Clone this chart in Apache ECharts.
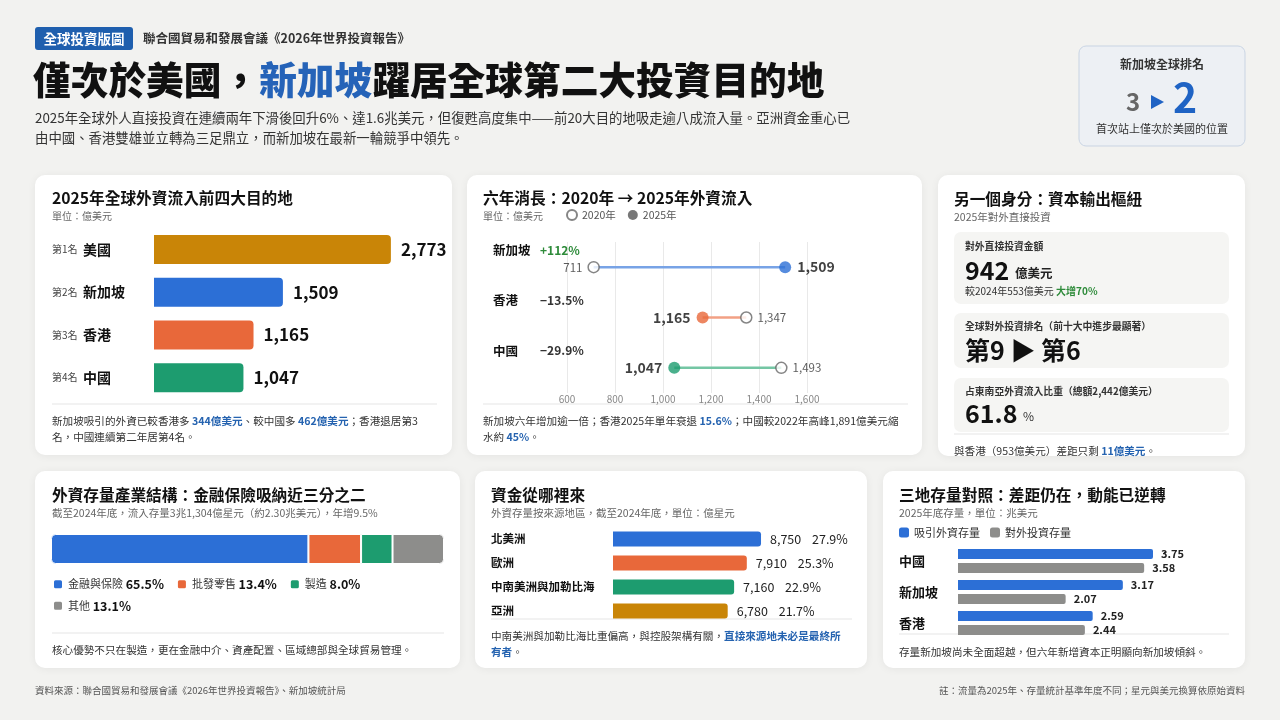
<!DOCTYPE html>
<html><head><meta charset="utf-8">
<script src="https://cdn.jsdelivr.net/npm/echarts@6/dist/echarts.min.js"></script>
<style>html,body{margin:0;padding:0;background:#f2f2f0;}#c{width:1280px;height:720px;}</style>
</head><body><div id="c"></div>
<script>
// ---------- DATA ----------
const top4Countries = ['美國','新加坡','香港','中國'];
const top4Ranks = ['第1名','第2名','第3名','第4名'];
const top4Values = [2773,1509,1165,1047];

const dbCountries = ['新加坡','香港','中國'];
const db2020 = [711,1347,1493];
const db2025 = [1509,1165,1047];
const dbChange = ['+112%','−13.5%','−29.9%'];

const sectorNames = ['金融與保險','批發零售','製造','其他'];
const sectorShares = [65.5,13.4,8.0,13.1];

const sourceRegions = ['北美洲','歐洲','中南美洲與加勒比海','亞洲'];
const sourceValues = [8750,7910,7160,6780];
const sourceShares = [27.9,25.3,22.9,21.7];

const stockPlaces = ['中國','新加坡','香港'];
const stockInward = [3.75,3.17,2.59];
const stockOutward = [3.58,2.07,2.44];

// ---------- STYLE ----------
const FONT = '"Noto Sans CJK TC","Noto Sans",sans-serif';
const BLUE = '#2c6fd6', ORANGE = '#e8683a', GREEN = '#1d9c6f', GOLD = '#c98507', GRAY = '#8d8d8b';
const ACC = '#2563b0';
const top4Colors = [GOLD, BLUE, ORANGE, GREEN];
const dbDot = [BLUE, ORANGE, GREEN];
const dbLine = ['#78a3e6', '#f2a084', '#74c6a4'];
const sectorColors = [BLUE, ORANGE, GREEN, GRAY];
const sourceColors = [BLUE, ORANGE, GREEN, GOLD];
const FN = 10.6;   // footnote size
const SUB = 10.5;  // card subtitle size
const TT = 15.7;   // card title size

const g = [];
function card(x,y,w,h){ g.push({type:'rect', z:-5, shape:{x,y,width:w,height:h,r:10}, style:{fill:'#fff', shadowBlur:8, shadowColor:'rgba(0,0,0,0.06)', shadowOffsetY:1}}); }
function box(x,y,w,h,fill,stroke){ g.push({type:'rect', z:-4, shape:{x,y,width:w,height:h,r:7}, style:{fill, stroke:stroke||null, lineWidth:1}}); }
function hline(x1,y,x2){ g.push({type:'line', z:-3, shape:{x1,y1:y,x2,y2:y}, style:{stroke:'#e5e5e5', lineWidth:1}}); }
function txt(x,y,text,o){
  o = o || {};
  const st = Object.assign({text, fill:'#222', fontSize:12, fontFamily:FONT, fontWeight:'normal', align:'left', verticalAlign:'middle'}, o);
  st.textAlign = st.align; st.textVerticalAlign = st.verticalAlign;
  if (st.rich) { for (const k in st.rich) { st.rich[k] = Object.assign({fontFamily:FONT, fontSize:st.fontSize, fill:st.fill}, st.rich[k]); } }
  g.push({type:'text', z:10, x, y, style:st});
}
const accRich = (fs) => ({b:{fill:ACC, fontWeight:'bold', fontSize:fs}});

// ---------- HEADER ----------
g.push({type:'rect', z:1, shape:{x:35,y:27,width:98,height:23,r:3}, style:{fill:'#1f5fae'}});
txt(84,38.5,'全球投資版圖',{fill:'#fff', fontSize:13.5, fontWeight:'bold', align:'center'});
txt(143,38.5,'聯合國貿易和發展會議《2026年世界投資報告》',{fill:'#333', fontSize:12.5, fontWeight:'bold'});
txt(33,80,'僅次於美國，{b|新加坡}躍居全球第二大投資目的地',{fill:'#111', fontSize:37.7, fontWeight:900, rich:{b:{fill:'#2563b8', fontWeight:900, fontSize:37.7}}});
txt(35,118,'2025年全球外人直接投資在連續兩年下滑後回升6%、達1.6兆美元，但復甦高度集中——前20大目的地吸走逾八成流入量。亞洲資金重心已',{fill:'#333', fontSize:13.4});
txt(35,138,'由中國、香港雙雄並立轉為三足鼎立，而新加坡在最新一輪競爭中領先。',{fill:'#333', fontSize:13.4});

box(1079,46,166,100,'#edf0f4','#c9d4e3');
txt(1162,64,'新加坡全球排名',{fill:'#333', fontSize:12, fontWeight:'bold', align:'center'});
txt(1133,102,'3',{fill:'#666', fontSize:24, fontWeight:'bold', align:'center'});
g.push({type:'polygon', z:10, shape:{points:[[1151,95],[1164,102],[1151,109]]}, style:{fill:'#1f63c4'}});
txt(1185,97,'2',{fill:'#1f63c4', fontSize:41, fontWeight:'bold', align:'center'});
txt(1162,129,'首次站上僅次於美國的位置',{fill:'#333', fontSize:11, align:'center'});

// ---------- CARDS ----------
card(35,175,417,280); card(467,175,455,280); card(938,175,307,281);
card(35,471,425,197); card(475,471,392,197); card(883,471,362,197);

// card 1
txt(52,198,'2025年全球外資流入前四大目的地',{fill:'#111', fontSize:TT, fontWeight:'bold'});
txt(52,216,'單位：億美元',{fill:'#666', fontSize:10});
hline(52,404,437);
txt(52,421,'新加坡吸引的外資已較香港多 {b|344億美元}、較中國多 {b|462億美元}；香港退居第3',{fill:'#333', fontSize:FN, rich:accRich(FN)});
txt(52,437,'名，中國連續第二年居第4名。',{fill:'#333', fontSize:FN});

// card 2
txt(483,198,'六年消長：2020年 → 2025年外資流入',{fill:'#111', fontSize:TT, fontWeight:'bold'});
txt(483,216,'單位：億美元',{fill:'#666', fontSize:10});
hline(483,404,908);
txt(483,421,'新加坡六年增加逾一倍；香港2025年單年衰退 {b|15.6%}；中國較2022年高峰1,891億美元縮',{fill:'#333', fontSize:FN, rich:accRich(FN)});
txt(483,437,'水約 {b|45%}。',{fill:'#333', fontSize:FN, rich:accRich(FN)});

// card 3
txt(954,199,'另一個身分：資本輸出樞紐',{fill:'#111', fontSize:TT, fontWeight:'bold'});
txt(954,217,'2025年對外直接投資',{fill:'#666', fontSize:SUB});
box(954,232,275,72,'#f5f5f3'); box(954,313,275,55,'#f5f5f3'); box(954,378,275,54,'#f5f5f3');
txt(965,246,'對外直接投資金額',{fill:'#333', fontSize:9.8, fontWeight:'bold'});
txt(965,270,'942 {u|億美元}',{fill:'#111', fontSize:25, fontWeight:'bold', rich:{u:{fontSize:12.5, fontWeight:'bold', fill:'#222', padding:[6,0,0,0]}}});
txt(965,291,'較2024年553億美元 {g|大增70%}',{fill:'#333', fontSize:10, rich:{g:{fill:'#2e8b3a', fontWeight:'bold'}}});
txt(965,326,'全球對外投資排名（前十大中進步最顯著）',{fill:'#333', fontSize:9.8, fontWeight:'bold'});
txt(965,350,'第9 ▶ 第6',{fill:'#111', fontSize:25, fontWeight:'bold'});
txt(965,391,'占東南亞外資流入比重（總額2,442億美元）',{fill:'#333', fontSize:9.8, fontWeight:'bold'});
txt(965,413,'61.8 {u|%}',{fill:'#111', fontSize:25, fontWeight:'bold', rich:{u:{fontSize:12, fontWeight:'normal', fill:'#333', padding:[6,0,0,0]}}});
hline(954,434,1229);
txt(954,451,'與香港（953億美元）差距只剩 {b|11億美元}。',{fill:'#333', fontSize:FN, rich:accRich(FN)});

// card 4
txt(52,495,'外資存量產業結構：金融保險吸納近三分之二',{fill:'#111', fontSize:TT, fontWeight:'bold'});
txt(52,513,'截至2024年底，流入存量3兆1,304億星元（約2.30兆美元），年增9.5%',{fill:'#666', fontSize:SUB});
hline(52,633,444);
txt(52,650,'核心優勢不只在製造，更在金融中介、資產配置、區域總部與全球貿易管理。',{fill:'#333', fontSize:FN});

// card 5
txt(491,495,'資金從哪裡來',{fill:'#111', fontSize:TT, fontWeight:'bold'});
txt(491,513,'外資存量按來源地區，截至2024年底，單位：億星元',{fill:'#666', fontSize:SUB});
hline(491,619,852);
txt(491,636,'中南美洲與加勒比海比重偏高，與控股架構有關，{b|直接來源地未必是最終所}',{fill:'#333', fontSize:FN, rich:accRich(FN)});
txt(491,652,'{b|有者}。',{fill:'#333', fontSize:FN, rich:accRich(FN)});

// card 6
txt(899,495,'三地存量對照：差距仍在，動能已逆轉',{fill:'#111', fontSize:TT, fontWeight:'bold'});
txt(899,513,'2025年底存量，單位：兆美元',{fill:'#666', fontSize:SUB});
hline(899,634,1229);
txt(899,652,'存量新加坡尚未全面超越，但六年新增資本正明顯向新加坡傾斜。',{fill:'#333', fontSize:FN});

// footer
txt(35,690,'資料來源：聯合國貿易和發展會議《2026年世界投資報告》、新加坡統計局',{fill:'#555', fontSize:9.5});
txt(1245,690,'註：流量為2025年、存量統計基準年度不同；星元與美元換算依原始資料',{fill:'#555', fontSize:9.5, align:'right'});

// ---------- CHART OPTION ----------
const fmt = v => Number(v).toLocaleString('en-US');
const baseGrid = {outerBoundsMode:'none', containLabel:false};

const option = {
  animation:false,
  textStyle:{fontFamily:FONT},
  graphic:{elements:g},
  grid:[
    Object.assign({left:154, top:228, width:299, height:171}, baseGrid),
    Object.assign({left:567, top:242, width:240, height:151}, baseGrid),
    Object.assign({left:51, top:534, width:393, height:30}, baseGrid),
    Object.assign({left:613, top:527, width:203, height:96}, baseGrid),
    Object.assign({left:958, top:545.5, width:260, height:93}, baseGrid)
  ],
  xAxis:[
    {gridIndex:0, type:'value', min:0, max:3500, show:false},
    {gridIndex:1, type:'value', min:600, max:1600, interval:200,
      axisLine:{show:false}, axisTick:{show:false},
      splitLine:{show:true, lineStyle:{color:'#e9e9e9', width:1}},
      axisLabel:{margin:1, color:'#888', fontSize:10, fontFamily:FONT, formatter:fmt}},
    {gridIndex:2, type:'value', min:0, max:100, show:false},
    {gridIndex:3, type:'value', min:0, max:12000, show:false},
    {gridIndex:4, type:'value', min:0, max:5, show:false}
  ],
  yAxis:[
    {gridIndex:0, type:'category', inverse:true, data:top4Countries,
      axisLine:{show:false}, axisTick:{show:false},
      axisLabel:{align:'left', margin:102, formatter:(v,i)=>'{r|'+top4Ranks[i]+'}{c|'+v+'}',
        rich:{r:{fontSize:10, color:'#444', fontFamily:FONT, width:31}, c:{fontSize:14, fontWeight:'bold', color:'#111', fontFamily:FONT}}}},
    {gridIndex:1, type:'category', inverse:true, data:dbCountries,
      axisLine:{show:false}, axisTick:{show:false},
      axisLabel:{align:'left', margin:74, verticalAlign:'bottom', padding:[0,0,8,0],
        formatter:(v,i)=>'{n|'+v+'}{'+(dbChange[i].charAt(0)==='+'?'u':'d')+'|'+dbChange[i]+'}',
        rich:{n:{width:47, fontSize:12.5, fontWeight:'bold', color:'#111', fontFamily:FONT, lineHeight:18},
              u:{fontSize:12, fontWeight:'bold', color:'#2e8b3a', fontFamily:FONT, lineHeight:18},
              d:{fontSize:12, fontWeight:'bold', color:'#333', fontFamily:FONT, lineHeight:18}}}},
    {gridIndex:2, type:'category', data:['產業結構'], show:false},
    {gridIndex:3, type:'category', inverse:true, data:sourceRegions,
      axisLine:{show:false}, axisTick:{show:false},
      axisLabel:{align:'left', margin:122, fontSize:11.5, fontWeight:'bold', color:'#111', fontFamily:FONT}},
    {gridIndex:4, type:'category', inverse:true, data:stockPlaces,
      axisLine:{show:false}, axisTick:{show:false},
      axisLabel:{align:'left', margin:59, fontSize:13, fontWeight:'bold', color:'#111', fontFamily:FONT}}
  ],
  legend:[
    {data:['2020年','2025年'], left:566, top:209, padding:0, icon:'circle', itemWidth:10, itemHeight:10, itemGap:12,
      selectedMode:false, textStyle:{fontSize:10.5, color:'#555', fontFamily:FONT}},
    {data:sectorNames, left:52, top:578, width:330, padding:0, icon:'roundRect', itemWidth:10, itemHeight:10, itemGap:9,
      selectedMode:false,
      formatter:n=>'{n|'+n+'} {v|'+sectorShares[sectorNames.indexOf(n)].toFixed(1)+'%}',
      textStyle:{fontFamily:FONT, rich:{n:{fontSize:11, color:'#333', lineHeight:17, fontFamily:FONT},
        v:{fontSize:12.5, fontWeight:'bold', color:'#111', lineHeight:17, fontFamily:FONT, padding:[0,3,0,0]}}}},
    {data:['吸引外資存量','對外投資存量'], left:899, top:527, padding:0, icon:'roundRect', itemWidth:10, itemHeight:10, itemGap:10,
      selectedMode:false, textStyle:{fontSize:11, color:'#333', fontFamily:FONT}}
  ],
  series:[]
};

// card 1 bars
option.series.push({type:'bar', xAxisIndex:0, yAxisIndex:0, barWidth:29,
  data:top4Values.map((v,i)=>({value:v, itemStyle:{color:top4Colors[i], borderRadius:[0,4,4,0]}})),
  label:{show:true, position:'right', distance:10, fontSize:17, fontWeight:'bold', color:'#111', fontFamily:FONT, formatter:p=>fmt(p.value)}});

// card 2 dumbbell lines
dbCountries.forEach((c,i)=>{
  option.series.push({type:'line', xAxisIndex:1, yAxisIndex:1, symbol:'none', silent:true, z:2,
    lineStyle:{color:dbLine[i], width:2.5}, data:[[db2020[i], c],[db2025[i], c]]});
});
option.series.push({name:'2020年', type:'scatter', xAxisIndex:1, yAxisIndex:1, symbol:'circle', symbolSize:11, z:4,
  itemStyle:{color:'#fff', borderColor:'#666', borderWidth:1.5},
  data:dbCountries.map((c,i)=>({value:[db2020[i], c], label:{position: db2020[i] < db2025[i] ? 'left' : 'right'}})),
  label:{show:true, distance:5, fontSize:11.5, color:'#333', fontFamily:FONT, formatter:p=>fmt(p.value[0])}});
option.series.push({name:'2025年', type:'scatter', xAxisIndex:1, yAxisIndex:1, symbol:'circle', symbolSize:12, z:5,
  itemStyle:{color:'#555'},
  data:dbCountries.map((c,i)=>({value:[db2025[i], c], itemStyle:{color:dbDot[i]}, label:{position: db2025[i] > db2020[i] ? 'right' : 'left'}})),
  label:{show:true, distance:6, fontSize:14, fontWeight:'bold', color:'#111', fontFamily:FONT, formatter:p=>fmt(p.value[0])}});

// card 4 stacked bar
sectorNames.forEach((n,i)=>{
  const last = i === sectorNames.length-1;
  option.series.push({name:n, type:'bar', stack:'s', xAxisIndex:2, yAxisIndex:2, barWidth:30,
    itemStyle:{color:sectorColors[i], borderColor:'#fff', borderWidth:1,
      borderRadius: i===0 ? [4,0,0,4] : (last ? [0,4,4,0] : 0)},
    data:[sectorShares[i]]});
});

// card 5 bars
option.series.push({type:'bar', xAxisIndex:3, yAxisIndex:3, barWidth:15,
  data:sourceValues.map((v,i)=>({value:v, itemStyle:{color:sourceColors[i], borderRadius:[0,3,3,0]}})),
  label:{show:true, position:'right', distance:9, fontFamily:FONT,
    formatter:p=>'{v|'+fmt(p.value)+'}{p|'+sourceShares[p.dataIndex].toFixed(1)+'%}',
    rich:{v:{width:42, fontSize:12.5, color:'#222', fontFamily:FONT}, p:{fontSize:12.5, color:'#222', fontFamily:FONT}}}});

// card 6 bars
option.series.push({name:'吸引外資存量', type:'bar', xAxisIndex:4, yAxisIndex:4, barWidth:10, barGap:'40%',
  itemStyle:{color:BLUE, borderRadius:[0,2,2,0]}, data:stockInward,
  label:{show:true, position:'right', distance:8, fontSize:11, fontWeight:'bold', color:'#222', fontFamily:FONT, formatter:p=>p.value.toFixed(2)}});
option.series.push({name:'對外投資存量', type:'bar', xAxisIndex:4, yAxisIndex:4, barWidth:10, barGap:'40%',
  itemStyle:{color:GRAY, borderRadius:[0,2,2,0]}, data:stockOutward,
  label:{show:true, position:'right', distance:8, fontSize:11, fontWeight:'bold', color:'#222', fontFamily:FONT, formatter:p=>p.value.toFixed(2)}});

const chart = echarts.init(document.getElementById('c'), null, {renderer:'canvas', width:1280, height:720});
chart.setOption(option);
</script>
</body></html>
